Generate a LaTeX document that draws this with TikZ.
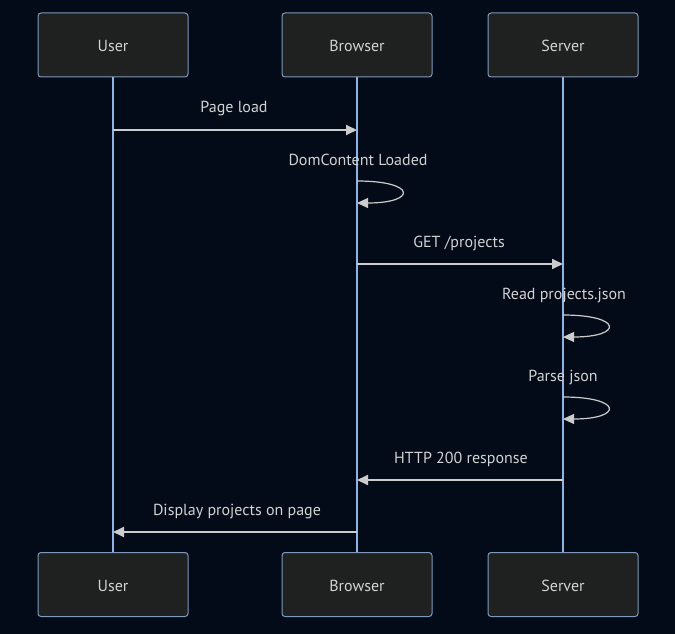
\documentclass[tikz,border=0pt]{standalone}
\usepackage{fontspec}
\setmainfont{PT Sans}
\usetikzlibrary{arrows.meta}
\definecolor{bg}{HTML}{020B17}
\definecolor{boxfill}{HTML}{1F2020}
\definecolor{boxline}{HTML}{7E9BBD}
\definecolor{life}{HTML}{8DB4E2}
\definecolor{msg}{HTML}{CCCCCC}
\definecolor{txt}{HTML}{D2D2D2}
\tikzset{
  actor/.style={draw=boxline, fill=boxfill, line width=1pt, rounded corners=3pt,
    minimum width=150pt, minimum height=64pt, inner sep=0pt,
    text height=15pt, text depth=1.8pt,
    text=txt, font=\fontsize{16}{19}\selectfont},
  lifeline/.style={draw=life, line width=1.5pt},
  msgline/.style={draw=msg, line width=1.8pt, -{Triangle[length=11pt,width=10pt]}},
  msglabel/.style={text=txt, font=\fontsize{16}{19}\selectfont, anchor=base, inner sep=0pt},
}
\begin{document}
\begin{tikzpicture}[x=1pt,y=-1pt]
\fill[bg] (0,0) rectangle (675,634);
\useasboundingbox (0,0) rectangle (675,634);
% actors
\node[actor] (userT) at (113,45) {User};
\node[actor] (browT) at (357,45) {Browser};
\node[actor] (servT) at (563,45) {Server};
\node[actor] (userB) at (113,584.5) {User};
\node[actor] (browB) at (357,584.5) {Browser};
\node[actor] (servB) at (563,584.5) {Server};
% lifelines
\draw[lifeline] (userT.south) -- (userB.north);
\draw[lifeline] (browT.south) -- (browB.north);
\draw[lifeline] (servT.south) -- (servB.north);
% message end points
\coordinate (m1a) at (113,130); \coordinate (m1b) at (357,130);
\coordinate (s1a) at (357,181); \coordinate (s1b) at (357,203);
\coordinate (m2a) at (357,264); \coordinate (m2b) at (563,264);
\coordinate (s2a) at (563,315); \coordinate (s2b) at (563,337);
\coordinate (s3a) at (563,397); \coordinate (s3b) at (563,419);
\coordinate (m3a) at (563,480); \coordinate (m3b) at (357,480);
\coordinate (m4a) at (357,532); \coordinate (m4b) at (113,532);
% messages
\node[msglabel] (l1) at (234,113) {Page load};
\draw[msgline] (m1a) -- (m1b);
\node[msglabel] (l2) at (358,165) {DomContent Loaded};
\draw[msgline, line width=1.2pt] (s1a) .. controls ([xshift=60pt]s1a) and ([xshift=60pt]s1b) .. (s1b);
\node[msglabel] (l3) at (459,247) {GET /projects};
\draw[msgline] (m2a) -- (m2b);
\node[msglabel] (l4) at (564,299) {Read projects.json};
\draw[msgline, line width=1.2pt] (s2a) .. controls ([xshift=60pt]s2a) and ([xshift=60pt]s2b) .. (s2b);
\node[msglabel] (l5) at (563,381) {Parse json};
\draw[msgline, line width=1.2pt] (s3a) .. controls ([xshift=60pt]s3a) and ([xshift=60pt]s3b) .. (s3b);
\node[msglabel] (l6) at (461,463) {HTTP 200 response};
\draw[msgline] (m3a) -- (m3b);
\node[msglabel] (l7) at (237,515) {Display projects on page};
\draw[msgline] (m4a) -- (m4b);
\end{tikzpicture}
\end{document}
